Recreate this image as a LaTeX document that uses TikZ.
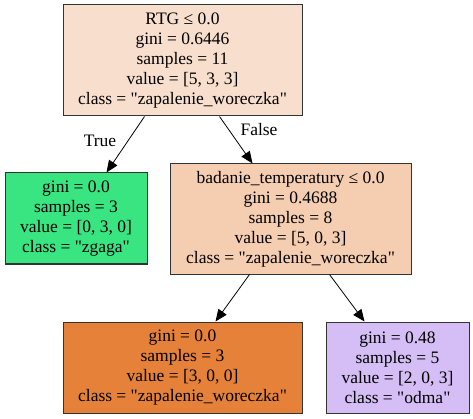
\documentclass[tikz,border=0pt]{standalone}
\usepackage{fontspec}
\setmainfont{Liberation Serif}[Ligatures=TeXOff]
\usetikzlibrary{arrows.meta}
\definecolor{rootc}{HTML}{F8DFCD}
\definecolor{midc}{HTML}{F5CDB0}
\definecolor{greenc}{HTML}{39E581}
\definecolor{orangec}{HTML}{E58139}
\definecolor{purplec}{HTML}{D5BDF6}
\definecolor{bordc}{HTML}{333333}
\begin{document}
\begin{tikzpicture}[x=1pt,y=-1pt,
  treebox/.style={draw=bordc,line width=1pt,rectangle,inner sep=0pt,align=center,
    font=\fontsize{17.5}{20}\selectfont},
  edge/.style={line width=0.8pt,-{Triangle[length=12pt,width=10pt]}},
  lbl/.style={font=\fontsize{17.5}{20}\selectfont,inner sep=0pt}]
\useasboundingbox (0,0) rectangle (473,419);
\node[treebox,fill=rootc,minimum width=239pt,minimum height=111pt] (root) at (182.5,60.5)
  {RTG ≤ 0.0\\gini = 0.6446\\samples = 11\\value = [5, 3, 3]\\class = "zapalenie\_woreczka"};
\node[treebox,fill=greenc,minimum width=142pt,minimum height=91pt] (zgaga) at (76,218.5)
  {gini = 0.0\\samples = 3\\value = [0, 3, 0]\\class = "zgaga"};
\node[treebox,fill=midc,minimum width=241pt,minimum height=110pt] (mid) at (290.5,219)
  {badanie\_temperatury ≤ 0.0\\gini = 0.4688\\samples = 8\\value = [5, 0, 3]\\class = "zapalenie\_woreczka"};
\node[treebox,fill=orangec,minimum width=239pt,minimum height=91pt] (bl) at (182.5,367.5)
  {gini = 0.0\\samples = 3\\value = [3, 0, 0]\\class = "zapalenie\_woreczka"};
\node[treebox,fill=purplec,minimum width=143pt,minimum height=91pt] (br) at (397.5,367.5)
  {gini = 0.48\\samples = 5\\value = [2, 0, 3]\\class = "odma"};
\draw[edge] ([xshift=82pt]root.south west) -- ([xshift=102pt]zgaga.north west);
\draw[edge] ([xshift=157pt]root.south west) -- ([xshift=83pt]mid.north west);
\draw[edge] ([xshift=80pt]mid.south west) -- ([xshift=153pt]bl.north west);
\draw[edge] ([xshift=160pt]mid.south west) -- ([xshift=39pt]br.north west);
\node[lbl] (tlab) at (100,141) {True};
\node[lbl] (flab) at (259,130) {False};
\end{tikzpicture}
\end{document}
